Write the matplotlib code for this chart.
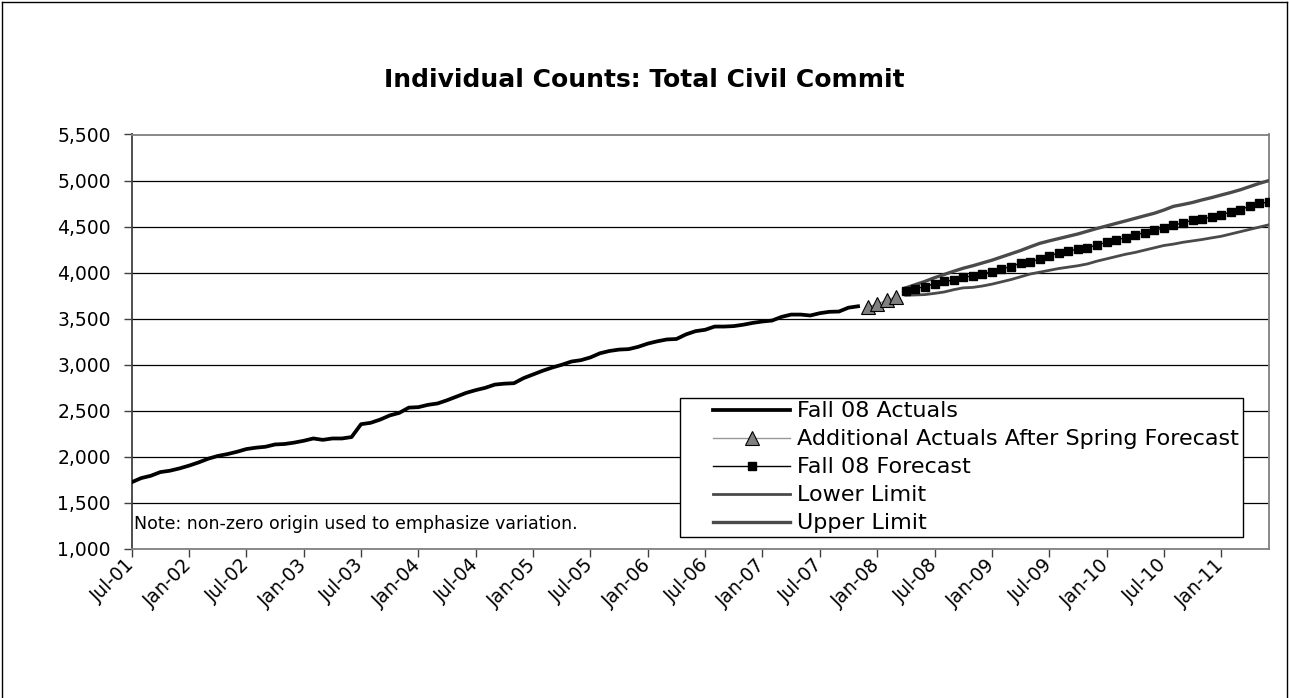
import matplotlib
matplotlib.use("Agg")
import matplotlib.pyplot as plt
import matplotlib.transforms as mtransforms
from matplotlib.lines import Line2D
from matplotlib.legend_handler import HandlerLine2D
from matplotlib.ticker import FuncFormatter, MultipleLocator

plt.rcParams['font.family'] = ['DejaVu Sans']

# Monthly series, Jul-01 .. Jun-11 (index 0 = Jul-01)
actuals = [1725, 1770, 1795, 1835, 1850, 1875, 1905, 1940, 1980, 2010,
           2030, 2055, 2085, 2100, 2110, 2135, 2140, 2155, 2175, 2200,
           2185, 2200, 2200, 2215, 2355, 2370, 2405, 2450, 2478, 2535,
           2540, 2565, 2580, 2615, 2655, 2695, 2725, 2750, 2785, 2795,
           2800, 2855, 2895, 2935, 2970, 3000, 3035, 3050, 3080, 3125,
           3150, 3165, 3170, 3195, 3230, 3255, 3275, 3280, 3330, 3365,
           3380, 3415, 3415, 3420, 3435, 3455, 3470, 3480, 3520, 3545,
           3545, 3535, 3560, 3575, 3578, 3620, 3635]
additional = [3625, 3660, 3700, 3740]
forecast = [3800, 3828, 3846, 3882, 3907, 3917, 3955, 3960, 3982, 4011,
            4040, 4065, 4105, 4118, 4148, 4178, 4217, 4235, 4256, 4271,
            4300, 4329, 4355, 4380, 4410, 4435, 4460, 4486, 4515, 4541,
            4570, 4585, 4603, 4628, 4658, 4683, 4723, 4752, 4766]
lower = [3755, 3758, 3762, 3775, 3790, 3815, 3835, 3840, 3855, 3875,
         3900, 3925, 3955, 3985, 4005, 4025, 4045, 4060, 4075, 4095,
         4125, 4150, 4175, 4200, 4220, 4245, 4270, 4295, 4310, 4330,
         4345, 4360, 4378, 4395, 4420, 4445, 4470, 4495, 4520]
upper = [3835, 3870, 3905, 3945, 3980, 4015, 4048, 4075, 4105, 4135,
         4170, 4205, 4240, 4280, 4318, 4345, 4370, 4395, 4420, 4450,
         4480, 4507, 4535, 4562, 4590, 4618, 4645, 4680, 4720, 4740,
         4762, 4790, 4815, 4843, 4870, 4900, 4935, 4970, 5000]
tick_labels = ["Jul-01", "Jan-02", "Jul-02", "Jan-03", "Jul-03", "Jan-04",
               "Jul-04", "Jan-05", "Jul-05", "Jan-06", "Jul-06", "Jan-07",
               "Jul-07", "Jan-08", "Jul-08", "Jan-09", "Jul-09", "Jan-10",
               "Jul-10", "Jan-11"]
n_months = 120

x_act = list(range(len(actuals)))
x_add = list(range(len(actuals), len(actuals) + len(additional)))
start_fc = len(actuals) + len(additional)
x_fc = list(range(start_fc, start_fc + len(forecast)))

W, H = 1289, 698
fig = plt.figure(figsize=(W / 100, H / 100), dpi=100)
ax = fig.add_axes([131.7 / W, 1 - 549 / H, 1137.3 / W, 414.5 / H])

ax.plot(x_fc, lower, color='#4a4a4a', lw=2.0, label='Lower Limit', zorder=3)
ax.plot(x_fc, upper, color='#4a4a4a', lw=2.4, label='Upper Limit', zorder=3)
ax.plot(x_act, actuals, color='black', lw=2.7, solid_joinstyle='round',
        label='Fall 08 Actuals', zorder=4)
ax.plot(x_add, additional, color='#999999', lw=1.0, marker='^', ms=10.5,
        mfc='#808080', mec='black', mew=0.8,
        label='Additional Actuals After Spring Forecast', zorder=5)
ax.plot(x_fc, forecast, color='black', lw=1.0, marker='s', ms=5.5,
        label='Fall 08 Forecast', zorder=5)

ax.set_xlim(0, n_months - 1)
ax.set_ylim(1000, 5500)
ax.yaxis.set_major_locator(MultipleLocator(500))
ax.yaxis.set_major_formatter(FuncFormatter(lambda v, p: f"{int(v):,}"))
ax.set_xticks(range(0, n_months, 6))
ax.set_xticklabels(tick_labels, rotation=45, ha='right', va='center',
                   rotation_mode='anchor')
shift = mtransforms.ScaledTranslation(-16 / 100, -9 / 100, fig.dpi_scale_trans)
for lab in ax.get_xticklabels():
    lab.set_transform(lab.get_transform() + shift)

ax.tick_params(axis='both', direction='out', length=6, width=1,
               color='#404040', labelsize=13.5, labelcolor='black')
ax.tick_params(axis='y', pad=9)

ax.set_axisbelow(True)
ax.yaxis.grid(True, color='black', lw=0.9)
for side in ('top', 'right', 'bottom'):
    ax.spines[side].set_color('#808080')
    ax.spines[side].set_linewidth(1.3)
ax.spines['left'].set_color('#404040')
ax.spines['left'].set_linewidth(1.3)

handles, labels = ax.get_legend_handles_labels()
order = [2, 3, 4, 0, 1]
leg = ax.legend([handles[i] for i in order], [labels[i] for i in order],
                loc='lower left', bbox_to_anchor=(0.482, 0.029),
                borderaxespad=0, fontsize=16, handlelength=4.8,
                handletextpad=0.32, labelspacing=0.36, borderpad=0.16,
                fancybox=False, framealpha=1, edgecolor='black',
                handler_map={Line2D: HandlerLine2D(xpad=1.34)})
leg.get_frame().set_linewidth(1.0)
leg.set_zorder(10)

ax.text(0.002, 0.06, "Note: non-zero origin used to emphasize variation.",
        transform=ax.transAxes, fontsize=12.5, ha='left', va='center')

fig.text(0.5, 1 - 80 / H, "Individual Counts: Total Civil Commit",
         ha='center', va='center', fontsize=18, fontweight='bold')

# chart frame
for xs, ys in (([2 / W, 2 / W], [0, 1 - 2 / H]),
               ([2 / W, 1 - 2 / W], [1 - 2 / H, 1 - 2 / H]),
               ([1 - 2 / W, 1 - 2 / W], [1 - 2 / H, 0])):
    fig.add_artist(Line2D(xs, ys, color='black', lw=1.0,
                          transform=fig.transFigure))

fig.savefig("out.png", dpi=100)
